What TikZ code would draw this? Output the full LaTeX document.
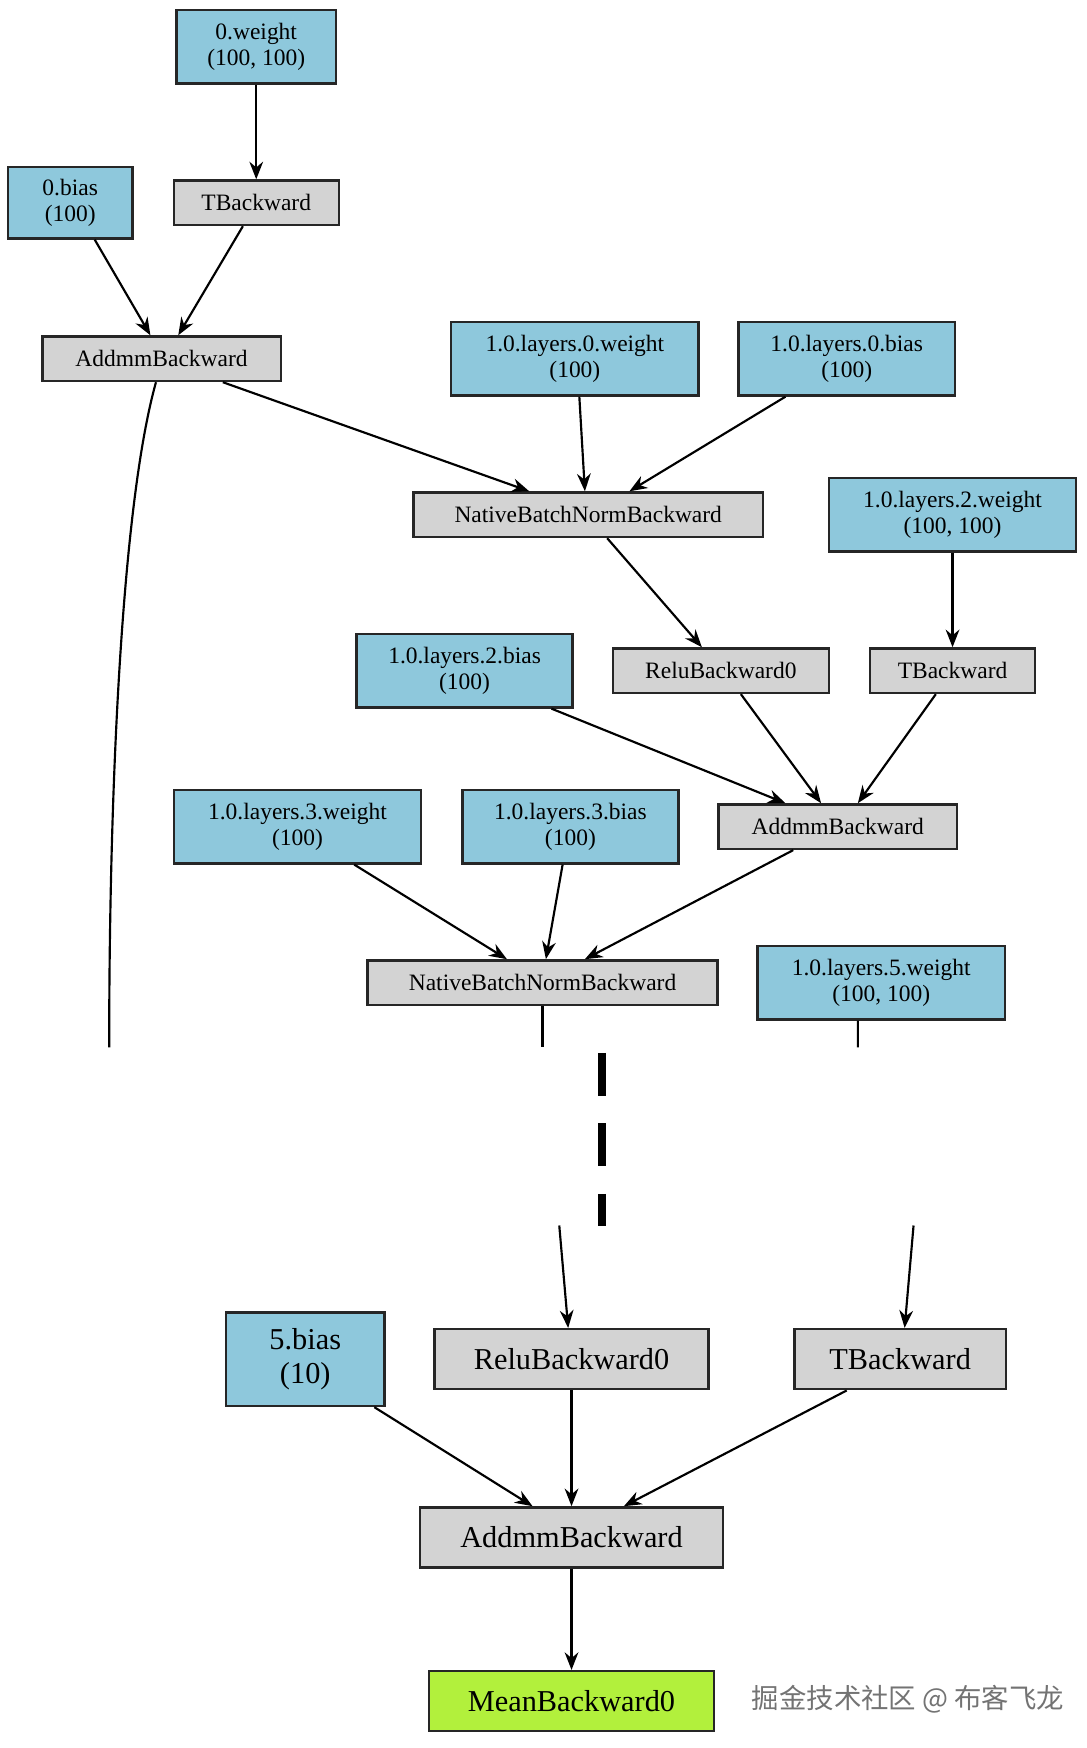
\documentclass[tikz,border=0pt]{standalone}
\usepackage{fontspec}
\setmainfont{Liberation Serif}
\newfontfamily\cjk{Noto Sans CJK SC}
\usetikzlibrary{arrows.meta}
\definecolor{bl}{HTML}{8EC8DC}
\definecolor{gr}{HTML}{D3D3D3}
\definecolor{lg}{HTML}{B2F03C}
\begin{document}
\begin{tikzpicture}[x=0.02cm,y=-0.02cm,
  base/.style={draw=black!85,line width=1.2pt,align=center,inner sep=0pt,font=\fontsize{12}{13}\selectfont},
  blue/.style={base,fill=bl},
  gray/.style={base,fill=gr},
  big/.style={font=\fontsize{15.5}{17}\selectfont},
  e/.style={-{Stealth[length=9pt,width=7pt]},line width=1.1pt}]
\useasboundingbox (0,0) rectangle (975,1569);
\node[blue,minimum width=143*0.02cm,minimum height=66*0.02cm] (w0) at (230,42) {0.weight\\(100, 100)};
\node[blue,minimum width=112*0.02cm,minimum height=64*0.02cm] (b0) at (63,182) {0.bias\\(100)};
\node[gray,minimum width=148*0.02cm,minimum height=40*0.02cm] (T1) at (230,182) {TBackward};
\node[gray,minimum width=214*0.02cm,minimum height=40*0.02cm] (A1) at (145,322) {AddmmBackward};
\node[blue,minimum width=222*0.02cm,minimum height=66*0.02cm] (l0w) at (516,322) {1.0.layers.0.weight\\(100)};
\node[blue,minimum width=194*0.02cm,minimum height=66*0.02cm] (l0b) at (760,322) {1.0.layers.0.bias\\(100)};
\node[gray,minimum width=314*0.02cm,minimum height=40*0.02cm] (N1) at (528,462) {NativeBatchNormBackward};
\node[blue,minimum width=222*0.02cm,minimum height=66*0.02cm] (l2w) at (855,462) {1.0.layers.2.weight\\(100, 100)};
\node[blue,minimum width=194*0.02cm,minimum height=66*0.02cm] (l2b) at (417,602) {1.0.layers.2.bias\\(100)};
\node[gray,minimum width=194*0.02cm,minimum height=40*0.02cm] (R1) at (647,602) {ReluBackward0};
\node[gray,minimum width=148*0.02cm,minimum height=40*0.02cm] (T2) at (855,602) {TBackward};
\node[gray,minimum width=214*0.02cm,minimum height=40*0.02cm] (A2) at (752,742) {AddmmBackward};
\node[blue,minimum width=222*0.02cm,minimum height=66*0.02cm] (l3w) at (267,742) {1.0.layers.3.weight\\(100)};
\node[blue,minimum width=194*0.02cm,minimum height=66*0.02cm] (l3b) at (512,742) {1.0.layers.3.bias\\(100)};
\node[gray,minimum width=314*0.02cm,minimum height=40*0.02cm] (N2) at (487,882) {NativeBatchNormBackward};
\node[blue,minimum width=222*0.02cm,minimum height=66*0.02cm] (l5w) at (791,882) {1.0.layers.5.weight\\(100, 100)};
\node[blue,big,minimum width=142*0.02cm,minimum height=84*0.02cm] (b5) at (274,1220) {5.bias\\(10)};
\node[gray,big,minimum width=246*0.02cm,minimum height=54*0.02cm] (R2) at (513,1220) {ReluBackward0};
\node[gray,big,minimum width=190*0.02cm,minimum height=54*0.02cm] (T3) at (808,1220) {TBackward};
\node[gray,big,minimum width=272*0.02cm,minimum height=54*0.02cm] (A3) at (513,1380) {AddmmBackward};
\node[base,big,fill=lg,minimum width=256*0.02cm,minimum height=54*0.02cm] (M) at (513,1527) {MeanBackward0};
\node[text=black!55,font=\cjk\fontsize{14}{15}\selectfont] (wm) at (815,1525) {掘金技术社区 @ 布客飞龙};
\coordinate (c1) at (98,940);
\coordinate (c2) at (487,940);
\coordinate (c3) at (770,940);
\coordinate (d1) at (540,945);
\coordinate (d2) at (540,1100);
\coordinate (c4) at (502,1100);
\coordinate (c5) at (820,1100);
\draw[e] (w0) -- (T1);
\draw[e] ([xshift=0.44cm]b0.south) -- ([xshift=-0.2cm]A1.north);
\draw[e] ([xshift=-0.24cm]T1.south) -- ([xshift=0.3cm]A1.north);
\draw[e] ([xshift=1.1cm]A1.south) -- ([xshift=-1.06cm]N1.north);
\draw[e] ([xshift=0.08cm]l0w.south) -- ([xshift=-0.06cm]N1.north);
\draw[e] ([xshift=-1.1cm]l0b.south) -- ([xshift=0.74cm]N1.north);
\draw[e] ([xshift=0.34cm]N1.south) -- ([xshift=-0.34cm]R1.north);
\draw[e] (l2w) -- (T2);
\draw[e] ([xshift=1.56cm]l2b.south) -- ([xshift=-0.94cm]A2.north);
\draw[e] ([xshift=0.36cm]R1.south) -- ([xshift=-0.3cm]A2.north);
\draw[e] ([xshift=-0.3cm]T2.south) -- ([xshift=0.36cm]A2.north);
\draw[e] ([xshift=1.02cm]l3w.south) -- ([xshift=-0.64cm]N2.north);
\draw[e] ([xshift=-0.14cm]l3b.south) -- ([xshift=0.06cm]N2.north);
\draw[e] ([xshift=-0.8cm]A2.south) -- ([xshift=0.76cm]N2.north);
\draw[line width=1.1pt] ([xshift=-0.1cm]A1.south) .. controls (110,450) and (98,700) .. (c1);
\draw[line width=1.1pt] (N2.south) -- (c2);
\draw[line width=1.1pt] ([xshift=-0.42cm]l5w.south) -- (c3);
\draw[line width=4pt,dash pattern=on 22pt off 14pt] (d1) -- (d2);
\draw[e] (c4) -- ([xshift=-0.06cm]R2.north);
\draw[e] (c5) -- ([xshift=0.08cm]T3.north);
\draw[e] ([xshift=1.24cm]b5.south) -- ([xshift=-0.7cm]A3.north);
\draw[e] (R2) -- (A3);
\draw[e] ([xshift=-0.96cm]T3.south) -- ([xshift=0.94cm]A3.north);
\draw[e] (A3) -- (M);
\end{tikzpicture}
\end{document}
